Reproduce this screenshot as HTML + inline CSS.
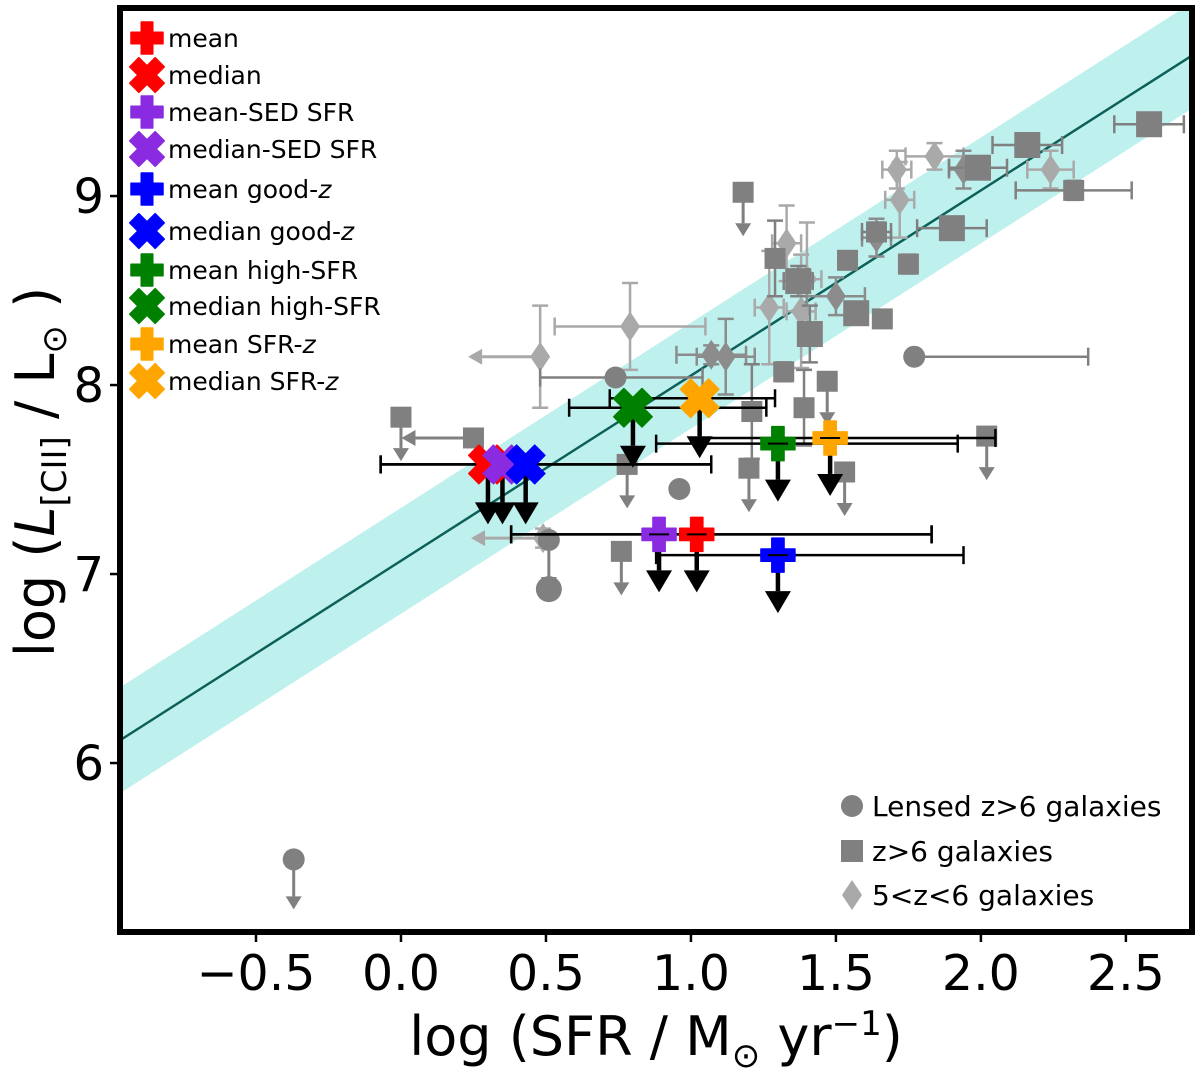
<!DOCTYPE html>
<html><head><meta charset="utf-8">
<style>
html,body{margin:0;padding:0;background:#fff;}
svg{display:block;font-family:"DejaVu Sans","Liberation Sans",sans-serif;}
</style></head>
<body>
<svg id="chart" width="1200" height="1069" viewBox="0 0 1200 1069" xmlns="http://www.w3.org/2000/svg"></svg>
<script>
// ---- data ----
const relSlope = 0.98, relIntercept = 7.07, relScatter = 0.28;
const sqX = [1.18,0.00,0.25,0.78,0.76,1.21,1.20,1.32,1.39,1.41,1.47,1.53,1.29,1.37,1.54,1.57,1.64,1.66,1.75,1.90,1.99,2.16,2.32,2.58,2.02];
const sqY = [9.02,7.83,7.72,7.58,7.12,7.86,7.56,8.07,7.88,8.27,8.02,7.54,8.67,8.55,8.66,8.38,8.81,8.35,8.64,8.83,9.15,9.27,9.03,9.38,7.73];
const sqUpper = [1,1,0,1,1,0,1,0,0,0,1,1,0,0,0,0,0,0,0,0,0,0,0,0,1];
const sqLeft = [0,0,1,0,0,0,0,0,0,0,0,0,0,0,0,0,0,0,0,0,0,0,0,0,0];
const sqXerr = [0,0,0,0,0,0,0,0,0,0,0,0,0,0.05,0,0.03,0.05,0,0,0.12,0.1,0.12,0.2,0.12,0];
const sqYerr = [0,0,0,0,0,0.25,0,0.05,0.2,0.15,0,0,0.2,0.08,0,0.05,0.05,0.04,0.05,0.06,0.05,0.06,0.05,0.05,0];
const sqBig = [0,0,0,0,0,0,0,0,0,1,0,0,0,1,0,1,0,0,0,1,1,1,0,1,0];
const ciX = [-0.37,0.51,0.51,0.96,1.77,0.74];
const ciY = [5.49,6.92,7.18,7.45,8.15,8.04];
const ciUpper = [1,0,1,0,0,0];
const ciXlo = [0,0,0,0,0,0.26];
const ciXhi = [0,0,0,0,0.6,0.3];
const diX = [0.48,0.79,0.49,1.27,1.33,1.40,1.38,1.50,1.07,1.12,1.71,1.72,1.84,1.94,2.24,1.64];
const diY = [8.15,8.31,7.19,8.41,8.75,8.56,8.39,8.47,8.16,8.15,9.14,8.98,9.21,9.14,9.14,8.78];
const diLeft = [1,0,1,0,0,0,0,0,0,0,0,0,0,0,0,0];
const diXerr = [0,0.26,0,0.05,0.05,0.05,0.05,0.1,0.12,0.1,0.05,0.05,0.1,0.05,0.08,0.05];
const diYerr = [0.27,0.23,0.05,0.3,0.2,0.3,0.3,0.1,0.05,0.2,0.1,0.2,0.07,0.1,0.1,0.1];
const diDark = [0,0,0,0,0,0,0,1,1,1,0,0,0,1,0,1];
const stLabel = ['mean','median','mean-SED SFR','median-SED SFR','mean good-z','median good-z','mean high-SFR','median high-SFR','mean SFR-z','median SFR-z'];
const stColor = ['#ff0000','#ff0000','#8a2be2','#8a2be2','#0000ff','#0000ff','#008000','#008000','#ffa500','#ffa500'];
const stX = [1.02,0.30,0.89,0.35,1.30,0.43,1.30,0.80,1.48,1.03];
const stY = [7.21,7.58,7.21,7.58,7.10,7.58,7.69,7.88,7.72,7.93];
const stXlo = [0.38,-0.07,0.38,-0.07,0.88,-0.07,0.88,0.58,1.03,0.72];
const stXhi = [1.83,1.07,1.83,1.07,1.94,1.07,1.92,1.26,2.05,1.29];
const xTicks = [-0.5,0.0,0.5,1.0,1.5,2.0,2.5];
const xTickLabels = ['\u22120.5','0.0','0.5','1.0','1.5','2.0','2.5'];
const yTicks = [6,7,8,9];

// ---- axes ----
const L=120,R=1192,T=8,B=932;
const X0=-0.969,X1=2.728,Y0=5.106,Y1=9.995;
const sx=v=>L+(v-X0)/(X1-X0)*(R-L);
const sy=v=>B-(v-Y0)/(Y1-Y0)*(B-T);
const NS='http://www.w3.org/2000/svg';
const svg=document.getElementById('chart');
function mk(tag,at,parent){const e=document.createElementNS(NS,tag);for(const k in at)e.setAttribute(k,at[k]);(parent||svg).appendChild(e);return e;}
const clipDef=mk('defs',{});
const cp=mk('clipPath',{id:'pc'},clipDef);mk('rect',{x:L,y:T,width:R-L,height:B-T},cp);
const plot=mk('g',{'clip-path':'url(#pc)'});



const bx0=X0,bx1=X1;
const band=mk('polygon',{points:[[sx(bx0),sy(relIntercept+relSlope*bx0+relScatter)],[sx(bx1),sy(relIntercept+relSlope*bx1+relScatter)],[sx(bx1),sy(relIntercept+relSlope*bx1-relScatter)],[sx(bx0),sy(relIntercept+relSlope*bx0-relScatter)]].map(p=>p.join(',')).join(' '),fill:'#aeeee8',opacity:0.8},plot);


const rl=mk('line',{x1:sx(bx0),y1:sy(relIntercept+relSlope*bx0),x2:sx(bx1),y2:sy(relIntercept+relSlope*bx1),stroke:'#0d5f5a','stroke-width':2.5},plot);



function downArrow(g,px,py,len,col,w,hw,hh){
  mk('line',{x1:px,y1:py,x2:px,y2:py+len-hh,stroke:col,'stroke-width':w},g);
  mk('polygon',{points:`${px-hw},${py+len-hh} ${px+hw},${py+len-hh} ${px},${py+len}`,fill:col},g);
}
function leftArrow(g,px,py,len,col){
  mk('line',{x1:px,y1:py,x2:px-len+14,y2:py,stroke:col,'stroke-width':3},g);
  mk('polygon',{points:`${px-len+14},${py-8} ${px-len+14},${py+8} ${px-len},${py}`,fill:col},g);
}
function errX(g,x,y,lo,hi,col,w){
  mk('line',{x1:sx(lo),y1:sy(y),x2:sx(hi),y2:sy(y),stroke:col,'stroke-width':w},g);
  [lo,hi].forEach(v=>mk('line',{x1:sx(v),y1:sy(y)-9,x2:sx(v),y2:sy(y)+9,stroke:col,'stroke-width':w},g));
}
function errY(g,x,y,e,col){
  mk('line',{x1:sx(x),y1:sy(y-e),x2:sx(x),y2:sy(y+e),stroke:col,'stroke-width':2.5},g);
  [y-e,y+e].forEach(v=>mk('line',{x1:sx(x)-8,y1:sy(v),x2:sx(x)+8,y2:sy(v),stroke:col,'stroke-width':2.5},g));
}
const G1='#808080',G2='#a9a9a9';
diX.forEach((x,i)=>{
  const g=mk('g',{},plot);
  
  
  const c=diDark[i]?'#8c8c8c':G2;
  if(diXerr[i])errX(g,0,diY[i],x-diXerr[i],x+diXerr[i],c,2.5);
  if(diYerr[i])errY(g,x,diY[i],diYerr[i],c);
  if(diLeft[i])leftArrow(g,sx(x),sy(diY[i]),72,c);
  const px=sx(x),py=sy(diY[i]);
  mk('polygon',{points:`${px},${py-15} ${px+10},${py} ${px},${py+15} ${px-10},${py}`,fill:c},g);
});
sqX.forEach((x,i)=>{
  const g=mk('g',{},plot);
  
  
  if(sqXerr[i])errX(g,0,sqY[i],x-sqXerr[i],x+sqXerr[i],G1,2.5);
  if(sqYerr[i])errY(g,x,sqY[i],sqYerr[i],G1);
  const px=sx(x),py=sy(sqY[i]);
  if(sqUpper[i])downArrow(g,px,py,44,G1,3,8,13);
  if(sqLeft[i])leftArrow(g,px,py,72,G1);
  const s=sqBig[i]?26:21;
  mk('rect',{x:px-s/2,y:py-s/2,width:s,height:s,fill:G1},g);
});
ciX.forEach((x,i)=>{
  const g=mk('g',{},plot);
  
  
  if(ciXlo[i]||ciXhi[i])errX(g,0,ciY[i],x-ciXlo[i],x+ciXhi[i],G1,2.5);
  const px=sx(x),py=sy(ciY[i]);
  if(ciUpper[i])downArrow(g,px,py,50,G1,3,8,13);
  mk('circle',{cx:px,cy:py,r:i==1?13:11,fill:G1},g);
});
function plusPath(px,py,s,w){const a=s/2,b=w/2;return `M${px-b},${py-a}H${px+b}V${py-b}H${px+a}V${py+b}H${px+b}V${py+a}H${px-b}V${py+b}H${px-a}V${py-b}H${px-b}Z`;}
function marker(g,px,py,isX,col,s){
  const p=mk('path',{d:plusPath(px,py,s,s*0.36),fill:col,stroke:col,'stroke-width':1.5,'stroke-linejoin':'round'},g);
  if(isX)p.setAttribute('transform',`rotate(45 ${px} ${py})`);
}
stX.forEach((x,i)=>{
  const g=mk('g',{},plot);
  
  
  errX(g,0,stY[i],stXlo[i],stXhi[i],'#000',2.5);
  const px=sx(x),py=sy(stY[i]);
  downArrow(g,px,py,i%2?60:58,'#000',4.5,13,22);
});
stX.forEach((x,i)=>{
  const g=mk('g',{},plot);
  
  
  const px=sx(x),py=sy(stY[i]);
  marker(g,px,py,i%2==1,stColor[i],i%2?40:34);
  if(i%2==0)mk('line',{x1:px-10,y1:py,x2:px+10,y2:py,stroke:'#000','stroke-width':2},g);
});

const fr=mk('rect',{x:L,y:T,width:R-L,height:B-T,fill:'none',stroke:'#000','stroke-width':6});


xTicks.forEach((v,i)=>{
  mk('line',{x1:sx(v),y1:B,x2:sx(v),y2:B+10,stroke:'#000','stroke-width':2.5});
  const t=mk('text',{x:sx(v),y:B+58,'text-anchor':'middle','font-size':49,fill:'#000'});
  t.textContent=xTickLabels[i];
  
  
});
yTicks.forEach(v=>{
  mk('line',{x1:L-10,y1:sy(v),x2:L,y2:sy(v),stroke:'#000','stroke-width':2.5});
  const t=mk('text',{x:L-16,y:sy(v)+17,'text-anchor':'end','font-size':48,fill:'#000'});
  t.textContent=v;
  
  
});
const legY=[38,75,112,149,189,231,270,306,344,381];
stLabel.forEach((lab,i)=>{
  const g=mk('g',{});
  
  
  marker(g,147,legY[i],i%2==1,stColor[i],i%2?36:32);
  const t=mk('text',{x:168,y:legY[i]+9,'font-size':25,fill:'#000'},g);
  const m=lab.match(/^(.*-)z$/);
  if(m){t.textContent=m[1];const ts=mk('tspan',{'font-style':'italic'},t);ts.textContent='z';}
  else t.textContent=lab;
});
const lg=[['circle','Lensed z>6 galaxies',806],['square','z>6 galaxies',851],['diamond','5<z<6 galaxies',895]];
lg.forEach((e,i)=>{
  const g=mk('g',{});
  
  
  const px=852,py=e[2];
  if(e[0]=='circle')mk('circle',{cx:px,cy:py,r:11,fill:G1},g);
  else if(e[0]=='square')mk('rect',{x:px-11,y:py-11,width:22,height:22,fill:G1},g);
  else mk('polygon',{points:`${px},${py-15} ${px+10},${py} ${px},${py+15} ${px-10},${py}`,fill:G2},g);
  const t=mk('text',{x:872,y:py+10,'font-size':28,fill:'#000'},g);
  t.textContent=e[1];
});
const xt=mk('text',{x:656,y:1055,'text-anchor':'middle','font-size':54,fill:'#000'});


xt.innerHTML='log (SFR / M<tspan font-size="34" dy="12">\u2299</tspan><tspan dy="-12"> yr</tspan><tspan font-size="34" dy="-20">\u22121</tspan><tspan dy="20">)</tspan>';
const yt=mk('text',{x:0,y:0,'text-anchor':'middle','font-size':54,fill:'#000',transform:'translate(54,472) rotate(-90)'});


yt.innerHTML='log (<tspan font-style="italic">L</tspan><tspan font-size="34" dy="12">[CII]</tspan><tspan dy="-12"> / L</tspan><tspan font-size="34" dy="12">\u2299</tspan><tspan dy="-12"> )</tspan>';
</script>
</body></html>
